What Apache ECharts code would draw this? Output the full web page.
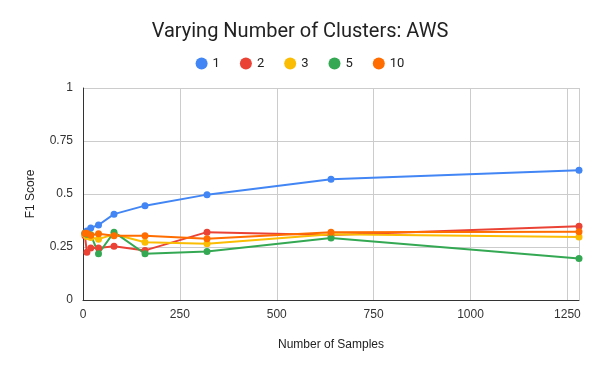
<!DOCTYPE html>
<html>
<head>
<meta charset="utf-8">
<script src="https://cdn.jsdelivr.net/npm/echarts@6/dist/echarts.min.js"></script>
<style>
  html, body { margin: 0; padding: 0; background: #fff; }
  #chart { width: 600px; height: 371px; }
</style>
</head>
<body>
<div id="chart"></div>
<script>
// sample counts on the x axis
const samples = [5, 10, 20, 40, 80, 160, 320, 640, 1280]

// F1 score per number of clusters
const c1  = [0.315, 0.326, 0.340, 0.354, 0.405, 0.445, 0.497, 0.570, 0.612]
const c2  = [0.303, 0.225, 0.245, 0.245, 0.253, 0.234, 0.320, 0.307, 0.348]
const c3  = [0.310, 0.300, 0.295, 0.287, 0.310, 0.272, 0.265, 0.310, 0.297]
const c5  = [0.315, 0.310, 0.308, 0.218, 0.320, 0.218, 0.229, 0.292, 0.196]
const c10 = [0.315, 0.315, 0.305, 0.312, 0.303, 0.303, 0.289, 0.320, 0.322]

const names  = ['1', '2', '3', '5', '10']
const colors = ['#4285F4', '#EA4335', '#FBBC04', '#34A853', '#FF6D01']
const seriesData = [c1, c2, c3, c5, c10]

const chart = echarts.init(document.getElementById('chart'))

const option = {
  animation: false,
  color: colors,
  title: {
    text: 'Varying Number of Clusters: AWS',
    left: 'center',
    top: 17,
    textStyle: { fontFamily: 'Roboto', fontSize: 20, fontWeight: 'normal', color: '#222' }
  },
  legend: {
    top: 52,
    left: 'center',
    icon: 'circle',
    itemWidth: 12,
    itemHeight: 12,
    itemGap: 20,
    textStyle: { fontFamily: 'Roboto', fontSize: 13, color: '#222' },
    data: names
  },
  grid: { left: 83, right: 21, top: 88, bottom: 71 },
  xAxis: {
    type: 'value',
    min: 0,
    max: 1280,
    interval: 250,
    name: 'Number of Samples',
    nameLocation: 'middle',
    nameGap: 39,
    nameTextStyle: { fontFamily: 'Arial', fontSize: 12, color: '#222' },
    axisLine: { lineStyle: { color: '#333' } },
    axisTick: { show: false },
    axisLabel: {
      fontFamily: 'Arial', fontSize: 12, color: '#333', showMaxLabel: false, margin: 9,
      formatter: v => String(v)
    },
    splitLine: { lineStyle: { color: '#ccc' } }
  },
  yAxis: {
    type: 'value',
    min: 0,
    max: 1,
    interval: 0.25,
    name: 'F1 Score',
    nameLocation: 'middle',
    nameGap: 46,
    nameTextStyle: { fontFamily: 'Arial', fontSize: 12, color: '#222' },
    axisLine: { show: true, lineStyle: { color: '#333' } },
    axisTick: { show: false },
    axisLabel: { fontFamily: 'Arial', fontSize: 12, color: '#333', margin: 10 },
    splitLine: { lineStyle: { color: '#ccc' } }
  },
  series: names.map((n, i) => ({
    name: n,
    type: 'line',
    data: samples.map((x, j) => [x, seriesData[i][j]]),
    symbol: 'circle',
    symbolSize: 7,
    lineStyle: { width: 2 },
    itemStyle: { color: colors[i] }
  }))
}

chart.setOption(option)
</script>
</body>
</html>
